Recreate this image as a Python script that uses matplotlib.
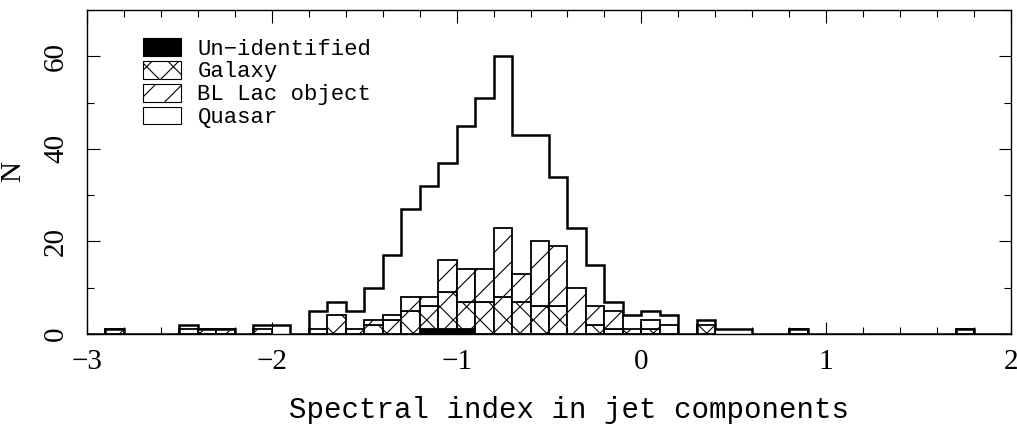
import numpy as np
import matplotlib
matplotlib.use("Agg")
import matplotlib.pyplot as plt
from matplotlib.patches import Patch
from matplotlib.ticker import MultipleLocator

# bin edges of the spectral index histogram (width 0.1, from -3 to 2)
edges = np.round(np.arange(-3.0, 2.0001, 0.1), 1)

# counts per bin for each source class
unidentified = [0, 0, 0, 0, 0, 0, 0, 0, 0, 0,
                0, 0, 0, 0, 0, 0, 0, 0, 1, 1,
                1, 0, 0, 0, 0, 0, 0, 0, 0, 0,
                0, 0, 0, 0, 0, 0, 0, 0, 0, 0,
                0, 0, 0, 0, 0, 0, 0, 0, 0, 0]
galaxy = [0, 0, 0, 0, 0, 0, 1, 0, 0, 0,
          0, 0, 0, 4, 0, 2, 3, 5, 5, 8,
          6, 7, 8, 7, 6, 6, 0, 2, 1, 1,
          1, 0, 0, 2, 0, 0, 0, 0, 0, 0,
          0, 0, 0, 0, 0, 0, 0, 0, 0, 0]
bllac = [0, 1, 0, 0, 0, 1, 0, 1, 0, 1,
         0, 0, 1, 0, 1, 1, 1, 3, 2, 7,
         7, 7, 15, 6, 14, 13, 10, 4, 4, 0,
         2, 2, 0, 0, 0, 0, 0, 0, 1, 0,
         0, 0, 0, 0, 0, 0, 0, 1, 0, 0]
quasar = [0, 0, 0, 0, 0, 1, 0, 0, 0, 1,
          2, 0, 4, 3, 4, 7, 13, 19, 24, 21,
          31, 37, 37, 30, 23, 15, 13, 9, 2, 3,
          2, 2, 0, 1, 1, 1, 0, 0, 0, 0,
          0, 0, 0, 0, 0, 0, 0, 0, 0, 0]

labels = ["Un\u2212identified", "Galaxy", "BL Lac object", "Quasar"]

un = np.array(unidentified)
ga = np.array(galaxy)
bl = np.array(bllac)
qs = np.array(quasar)
total = un + ga + bl + qs
left = edges[:-1]
width = 0.1

# drawn at 80 dpi so the hatching comes out a bit denser;
# all sizes below are points scaled by S to keep pixel sizes
DPI = 80
S = 100 / DPI

plt.rcParams['hatch.linewidth'] = 0.8 * S

fig = plt.figure(figsize=(1017 / DPI, 437 / DPI), dpi=DPI)
ax = fig.add_axes([87 / 1017, 1 - 334 / 437, 924 / 1017, 324 / 437])

# stacked classes: black, cross-hatched, diagonal-hatched
m = un > 0
ax.bar(left[m], un[m], width=width, align='edge', color='black',
       edgecolor='black', linewidth=1.0 * S)
m = ga > 0
ax.bar(left[m], ga[m], width=width, bottom=un[m], align='edge',
       facecolor='white', edgecolor='black', hatch='x', linewidth=1.3 * S)
m = bl > 0
ax.bar(left[m], bl[m], width=width, bottom=(un + ga)[m], align='edge',
       facecolor='white', edgecolor='black', hatch='/', linewidth=1.3 * S)

# outline of all sources
ax.stairs(total, edges, color='black', linewidth=1.8 * S)

ax.set_xlim(-3, 2)
ax.set_ylim(0, 70)
ax.xaxis.set_major_locator(MultipleLocator(1))
ax.xaxis.set_minor_locator(MultipleLocator(0.2))
ax.yaxis.set_major_locator(MultipleLocator(20))
ax.yaxis.set_minor_locator(MultipleLocator(10))
ax.tick_params(which='both', direction='in', top=True, right=True, width=0.8 * S)
ax.tick_params(which='major', length=9 * S)
ax.tick_params(which='minor', length=5 * S)
ax.tick_params(axis='x', which='major', pad=11 * S, labelsize=21 * S)
ax.tick_params(axis='y', which='major', pad=13 * S, labelsize=21 * S)
for t in ax.get_xticklabels() + ax.get_yticklabels():
    t.set_family('Liberation Serif')
for t in ax.get_yticklabels():
    t.set_rotation(90)
    t.set_va('center')
for s in ax.spines.values():
    s.set_linewidth(1.0 * S)

ax.set_xlabel("Spectral index in jet components", family='Liberation Mono',
              fontsize=21 * S)
ax.xaxis.set_label_coords((569 - 87) / 924, -(410 - 334) / 324)
ax.xaxis.label.set_va('center')
ax.set_ylabel("N", family='Liberation Serif', fontsize=21 * S)
ax.yaxis.set_label_coords(-(87 - 13) / 924, 0.5)
ax.yaxis.label.set_va('center')

handles = [Patch(facecolor='black', edgecolor='black'),
           Patch(facecolor='white', edgecolor='black', hatch='x'),
           Patch(facecolor='white', edgecolor='black', hatch='/'),
           Patch(facecolor='white', edgecolor='black')]
ax.legend(handles, labels, loc='upper left',
          bbox_to_anchor=((143 - 87) / 924, (334 - 38) / 324),
          frameon=False, borderpad=0, borderaxespad=0,
          handlelength=1.7, handleheight=0.85, handletextpad=0.75,
          labelspacing=0.06, prop={'family': 'Liberation Mono', 'size': 16 * S})

fig.savefig("out.png", dpi=DPI)
